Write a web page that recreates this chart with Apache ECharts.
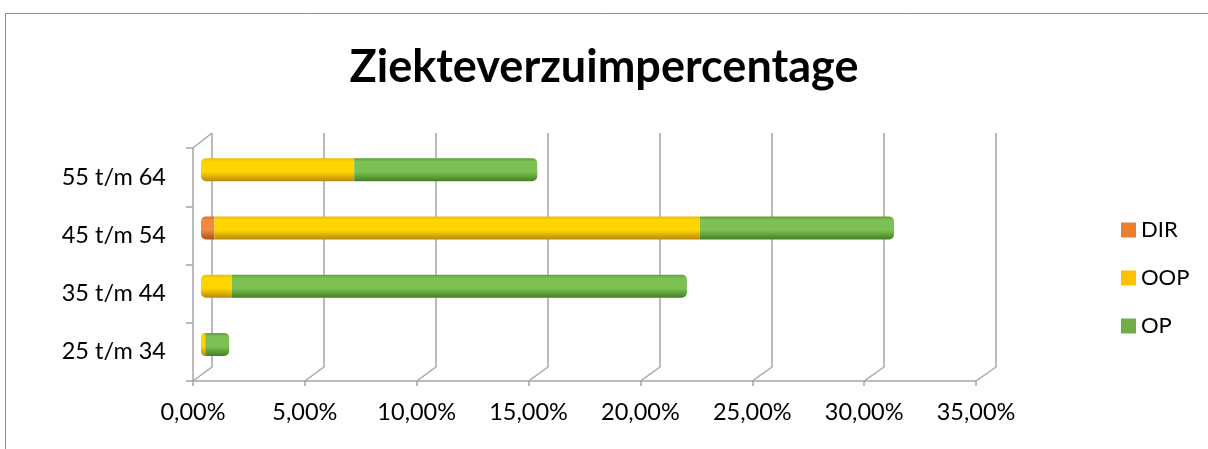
<!DOCTYPE html>
<html>
<head>
<meta charset="utf-8">
<script src="https://cdn.jsdelivr.net/npm/echarts@6/dist/echarts.min.js"></script>
<style>html,body{margin:0;padding:0;background:#fff;overflow:hidden;}#c{width:1208px;height:449px;}</style>
</head>
<body>
<div id="c"></div>
<script>
const categories = ['25 t/m 34', '35 t/m 44', '45 t/m 54', '55 t/m 64'];
const DIR = [0, 0, 0.6, 0];
const OOP = [0.19, 1.38, 21.7, 6.85];
const OP = [1.07, 20.34, 8.68, 8.18];
const xTicks = [0, 5, 10, 15, 20, 25, 30, 35];
const seriesNames = ['DIR', 'OOP', 'OP'];
const legendColors = ['#ED7D31', '#FFC000', '#70AD47'];

const FONT = 'Lato, "Open Sans", "Liberation Sans", sans-serif';
const GRIDC = '#A6A6A6';

function grad(top, mid, bot) {
  return new echarts.graphic.LinearGradient(0, 0, 0, 1, [
    {offset: 0, color: top}, {offset: 0.15, color: mid}, {offset: 0.6, color: mid}, {offset: 1, color: bot}
  ]);
}
const fills = [
  grad('#D9692A', '#F28A3E', '#A9521C'),
  grad('#EBB800', '#FFD500', '#B88A10'),
  grad('#5A9E38', '#7CC152', '#447F26')
];
const fmt = v => v.toFixed(2).replace('.', ',') + '%';

const chart = echarts.init(document.getElementById('c'), null, {renderer: 'canvas'});
const all = [DIR, OOP, OP];
const series = all.map((arr, si) => ({
  name: seriesNames[si],
  type: 'bar',
  stack: 'total',
  xAxisIndex: 2,
  yAxisIndex: 2,
  barWidth: 23,
  itemStyle: {color: fills[si]},
  data: arr.map((v, i) => {
    let first = all.findIndex(a => a[i] > 0);
    let last = all.length - 1 - [...all].reverse().findIndex(a => a[i] > 0);
    let r = [0, 0, 0, 0];
    if (si === first) { r[0] = 5; r[3] = 5; }
    if (si === last) { r[1] = 5; r[2] = 5; }
    return {value: v, itemStyle: {borderRadius: r}};
  })
}));

const option = {
  animation: false,
  backgroundColor: '#fff',
  title: {
    text: 'Ziekteverzuimpercentage',
    left: 'center',
    top: 40,
    textStyle: {fontFamily: FONT, fontWeight: 'bold', fontSize: 45, color: '#000'}
  },
  legend: {
    orient: 'vertical',
    left: 1116,
    top: 214,
    itemWidth: 15,
    itemHeight: 15,
    itemGap: 26,
    icon: 'rect',
    textStyle: {fontFamily: FONT, fontSize: 22, color: '#000', lineHeight: 22},
    data: seriesNames.map((n, i) => ({name: n, itemStyle: {color: legendColors[i]}}))
  },
  grid: [
    {left: 193, top: 148, width: 783, height: 233},
    {left: 212, top: 133, width: 784, height: 234},
    {left: 201, top: 140.5, width: 783, height: 233}
  ],
  xAxis: [
    {
      gridIndex: 0, type: 'value', min: 0, max: 35, interval: 5,
      axisLine: {show: true, lineStyle: {color: GRIDC, width: 1.5}},
      axisTick: {show: true, length: 5, lineStyle: {color: GRIDC, width: 1.5}},
      splitLine: {show: false},
      axisLabel: {formatter: fmt, fontFamily: FONT, fontSize: 23.5, color: '#000', margin: 19}
    },
    {
      gridIndex: 1, type: 'value', min: 0, max: 35, interval: 5,
      axisLine: {show: false}, axisTick: {show: false}, axisLabel: {show: false},
      splitLine: {show: true, lineStyle: {color: GRIDC, width: 1.5}}
    },
    {
      gridIndex: 2, type: 'value', min: 0, max: 35, interval: 5, show: false
    }
  ],
  yAxis: [
    {
      gridIndex: 0, type: 'category', data: categories,
      axisLine: {show: true, lineStyle: {color: GRIDC, width: 1.5}},
      axisTick: {show: true, length: 7, lineStyle: {color: GRIDC, width: 1.5}},
      axisLabel: {fontFamily: FONT, fontSize: 23.5, color: '#000', margin: 27}
    },
    {
      gridIndex: 1, type: 'category', data: categories, show: false
    },
    {
      gridIndex: 2, type: 'category', data: categories, show: false
    }
  ],
  series: series
};
chart.setOption(option);

const lines = [];
xTicks.forEach(t => {
  const f = chart.convertToPixel({xAxisIndex: 0, yAxisIndex: 0}, [t, categories[0]]);
  const b = chart.convertToPixel({xAxisIndex: 1, yAxisIndex: 1}, [t, categories[0]]);
  lines.push({x1: f[0], y1: 381, x2: b[0], y2: 367});
});
lines.push({x1: 193, y1: 148, x2: 212, y2: 133});
chart.setOption({
  graphic: [
    {type: 'line', silent: true, shape: {x1: 5.5, y1: 13.5, x2: 1240, y2: 13.5}, style: {stroke: '#8C8C8C', lineWidth: 1}},
    {type: 'line', silent: true, shape: {x1: 5.5, y1: 13.5, x2: 5.5, y2: 480}, style: {stroke: '#8C8C8C', lineWidth: 1}},
    ...lines.map(l => ({type: 'line', silent: true, shape: l, style: {stroke: GRIDC, lineWidth: 1.5}}))
  ]
});
</script>
</body>
</html>
